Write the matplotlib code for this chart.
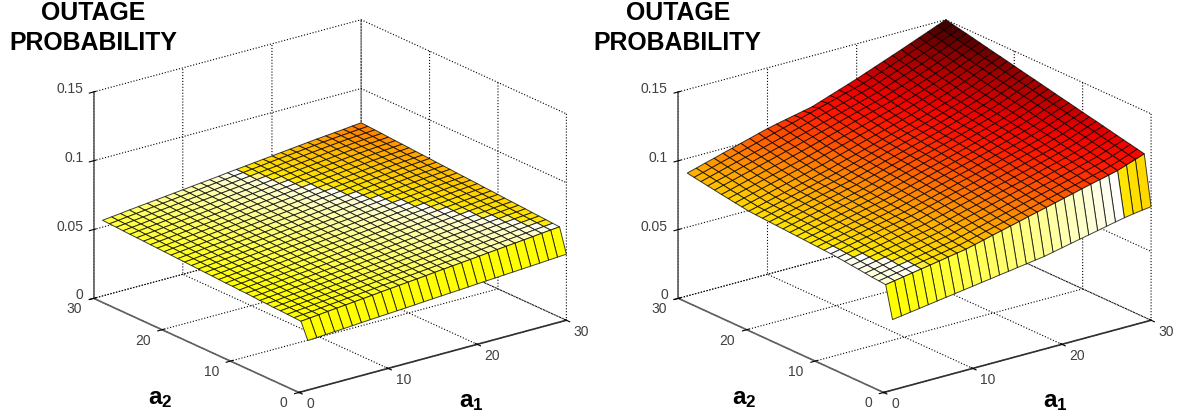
import numpy as np
import matplotlib
matplotlib.use("Agg")
import matplotlib.pyplot as plt
from matplotlib.colors import LinearSegmentedColormap, Normalize
from matplotlib.transforms import Affine2D
from mpl_toolkits.mplot3d import proj3d

W, H = 1177, 418
plt.rcParams["font.family"] = ["Liberation Sans", "DejaVu Sans"]
plt.rcParams["mathtext.fontset"] = "custom"
plt.rcParams["mathtext.bf"] = "Liberation Sans:bold"
plt.rcParams["grid.linestyle"] = ":"
plt.rcParams["grid.color"] = "black"
plt.rcParams["grid.linewidth"] = 0.8

A1 = list(range(1, 31))
A2 = list(range(0, 31))

# outage probability x 1e4, one row per a2 = 0..30
Z_LEFT = [
    [360, 364, 368, 372, 376, 380, 385, 389, 393, 397, 401, 405, 409, 414, 418, 422, 426, 430, 434, 439, 443, 447, 451, 455, 459, 463, 467, 472, 476, 480],
    [477, 483, 489, 496, 502, 508, 514, 520, 526, 533, 539, 545, 551, 557, 563, 570, 576, 582, 588, 594, 600, 607, 613, 619, 625, 631, 637, 644, 650, 656],
    [480, 486, 491, 498, 505, 510, 517, 523, 529, 535, 542, 547, 554, 560, 566, 572, 579, 585, 591, 597, 603, 609, 616, 622, 628, 634, 640, 647, 653, 659],
    [482, 489, 494, 501, 507, 514, 519, 526, 532, 538, 545, 550, 557, 563, 569, 576, 582, 588, 594, 600, 607, 613, 619, 626, 632, 638, 644, 651, 657, 663],
    [485, 491, 497, 503, 510, 516, 522, 529, 535, 541, 547, 554, 560, 566, 572, 579, 585, 591, 598, 604, 610, 616, 623, 629, 635, 641, 648, 654, 660, 666],
    [486, 493, 500, 506, 512, 519, 525, 531, 537, 544, 550, 556, 563, 569, 575, 582, 588, 594, 601, 607, 613, 620, 626, 632, 639, 645, 651, 657, 663, 669],
    [490, 495, 502, 509, 515, 521, 528, 534, 540, 547, 553, 559, 566, 572, 578, 585, 591, 597, 604, 610, 616, 623, 629, 636, 642, 648, 654, 661, 667, 673],
    [491, 498, 504, 511, 518, 524, 530, 537, 543, 550, 556, 562, 569, 575, 581, 588, 594, 601, 607, 613, 620, 626, 633, 639, 645, 652, 658, 664, 670, 676],
    [495, 500, 507, 514, 520, 527, 533, 539, 546, 552, 559, 565, 572, 578, 585, 591, 597, 604, 610, 617, 623, 630, 636, 642, 649, 655, 661, 668, 674, 679],
    [498, 503, 510, 516, 523, 530, 536, 542, 549, 555, 562, 568, 575, 581, 588, 594, 601, 607, 613, 620, 626, 633, 639, 646, 652, 659, 665, 671, 677, 682],
    [499, 506, 512, 519, 526, 532, 539, 545, 552, 558, 565, 571, 578, 584, 591, 597, 604, 610, 617, 623, 630, 636, 642, 649, 655, 662, 668, 675, 681, 686],
    [503, 508, 515, 522, 528, 535, 541, 548, 555, 561, 568, 574, 581, 587, 594, 600, 607, 613, 620, 626, 633, 639, 646, 652, 659, 665, 672, 678, 684, 689],
    [504, 511, 518, 524, 531, 538, 544, 551, 557, 564, 571, 577, 584, 590, 597, 603, 610, 616, 623, 629, 636, 643, 649, 656, 662, 669, 675, 682, 687, 692],
    [507, 514, 520, 527, 534, 540, 547, 554, 560, 567, 574, 580, 587, 594, 600, 607, 613, 620, 626, 633, 640, 646, 653, 659, 666, 672, 679, 685, 691, 696],
    [510, 516, 523, 530, 536, 543, 550, 557, 563, 570, 576, 583, 590, 597, 603, 610, 616, 623, 630, 636, 643, 650, 656, 663, 669, 676, 682, 689, 694, 699],
    [512, 519, 525, 532, 539, 546, 552, 559, 566, 573, 579, 586, 593, 599, 606, 613, 619, 626, 633, 639, 646, 653, 659, 666, 673, 679, 686, 691, 697, 702],
    [515, 521, 528, 535, 542, 548, 555, 562, 569, 575, 582, 589, 596, 602, 609, 616, 622, 629, 636, 643, 649, 656, 663, 669, 676, 683, 689, 695, 700, 705],
    [517, 524, 531, 537, 544, 551, 558, 565, 571, 578, 585, 592, 598, 605, 612, 619, 626, 632, 639, 646, 653, 659, 666, 673, 680, 686, 693, 698, 704, 709],
    [520, 526, 533, 540, 547, 554, 560, 567, 574, 581, 588, 595, 601, 608, 615, 622, 629, 636, 642, 649, 656, 663, 670, 676, 683, 690, 696, 702, 707, 712],
    [522, 529, 536, 543, 550, 556, 563, 570, 577, 584, 591, 598, 604, 611, 618, 625, 632, 639, 646, 653, 659, 666, 673, 680, 687, 693, 700, 705, 710, 715],
    [525, 531, 538, 545, 552, 559, 566, 573, 580, 587, 594, 601, 608, 614, 621, 628, 635, 642, 649, 656, 663, 670, 677, 683, 690, 697, 703, 709, 714, 719],
    [527, 534, 541, 548, 555, 562, 569, 576, 583, 590, 597, 604, 610, 617, 624, 631, 638, 645, 652, 659, 666, 673, 680, 687, 694, 700, 707, 712, 717, 722],
    [530, 536, 543, 550, 557, 565, 572, 579, 586, 593, 600, 607, 614, 621, 628, 635, 642, 648, 655, 662, 669, 676, 683, 690, 697, 704, 710, 715, 720, 725],
    [532, 539, 546, 553, 560, 567, 574, 581, 588, 596, 603, 610, 617, 624, 631, 638, 645, 652, 659, 666, 673, 680, 687, 694, 701, 707, 713, 718, 723, 729],
    [535, 541, 548, 556, 563, 570, 577, 584, 591, 598, 605, 613, 620, 627, 634, 641, 648, 655, 662, 669, 676, 683, 690, 697, 704, 711, 717, 722, 727, 732],
    [537, 544, 551, 558, 565, 573, 580, 587, 594, 601, 609, 616, 623, 630, 637, 644, 651, 658, 665, 672, 680, 687, 694, 701, 708, 714, 720, 725, 730, 735],
    [539, 547, 554, 561, 568, 575, 583, 590, 597, 604, 612, 619, 626, 633, 640, 647, 655, 662, 669, 676, 683, 690, 697, 704, 711, 718, 723, 728, 733, 738],
    [542, 549, 556, 564, 571, 578, 585, 593, 600, 607, 614, 622, 629, 636, 643, 651, 658, 665, 672, 679, 686, 693, 701, 708, 715, 721, 727, 732, 737, 742],
    [545, 552, 559, 566, 574, 581, 588, 595, 603, 610, 617, 625, 632, 639, 647, 654, 661, 668, 675, 683, 690, 697, 704, 711, 718, 724, 730, 735, 740, 745],
    [547, 554, 562, 569, 576, 584, 591, 598, 606, 613, 620, 628, 635, 642, 650, 657, 664, 671, 679, 686, 693, 700, 707, 714, 721, 727, 733, 738, 743, 748],
    [550, 557, 564, 572, 579, 586, 593, 600, 607, 614, 621, 628, 635, 642, 650, 657, 664, 671, 678, 685, 692, 699, 706, 713, 720, 726, 732, 738, 745, 751],
]
Z_RIGHT = [
    [512, 521, 531, 540, 550, 559, 569, 578, 588, 597, 607, 616, 626, 635, 645, 654, 664, 673, 687, 701, 715, 729, 742, 756, 770, 784, 797, 808, 817, 825],
    [743, 754, 765, 776, 787, 798, 809, 821, 832, 843, 859, 875, 892, 908, 924, 940, 957, 973, 989, 1005, 1021, 1037, 1054, 1070, 1086, 1102, 1118, 1141, 1164, 1187],
    [748, 759, 770, 782, 793, 804, 815, 826, 838, 849, 865, 881, 898, 914, 930, 947, 963, 979, 996, 1012, 1028, 1044, 1060, 1076, 1093, 1110, 1128, 1150, 1174, 1198],
    [752, 764, 775, 787, 798, 810, 822, 833, 845, 856, 873, 889, 906, 922, 939, 956, 972, 989, 1005, 1022, 1038, 1055, 1071, 1088, 1105, 1122, 1140, 1162, 1186, 1209],
    [758, 770, 782, 794, 806, 818, 829, 841, 853, 865, 881, 898, 914, 930, 947, 963, 980, 996, 1013, 1029, 1046, 1062, 1079, 1096, 1113, 1130, 1149, 1172, 1196, 1219],
    [764, 776, 788, 800, 812, 824, 837, 849, 861, 873, 890, 906, 923, 940, 956, 973, 990, 1006, 1023, 1039, 1056, 1072, 1089, 1106, 1123, 1141, 1160, 1183, 1207, 1230],
    [769, 781, 794, 806, 818, 831, 843, 855, 868, 880, 897, 913, 930, 947, 963, 980, 997, 1013, 1030, 1046, 1063, 1080, 1097, 1114, 1131, 1150, 1170, 1194, 1218, 1241],
    [775, 788, 800, 813, 825, 838, 851, 863, 876, 888, 905, 921, 938, 955, 972, 988, 1005, 1022, 1038, 1055, 1072, 1089, 1106, 1124, 1141, 1160, 1180, 1205, 1229, 1252],
    [780, 793, 806, 819, 832, 845, 858, 871, 884, 897, 914, 930, 947, 963, 980, 997, 1013, 1030, 1046, 1063, 1080, 1097, 1115, 1132, 1150, 1170, 1190, 1215, 1239, 1263],
    [785, 798, 811, 824, 837, 851, 864, 877, 890, 903, 920, 937, 954, 971, 988, 1004, 1021, 1038, 1055, 1072, 1090, 1107, 1125, 1142, 1160, 1180, 1201, 1225, 1249, 1273],
    [788, 801, 815, 828, 841, 855, 868, 881, 895, 908, 925, 942, 959, 976, 993, 1011, 1028, 1045, 1062, 1079, 1097, 1115, 1132, 1150, 1169, 1189, 1211, 1236, 1260, 1284],
    [791, 805, 818, 832, 846, 859, 873, 887, 900, 914, 931, 949, 966, 983, 1001, 1018, 1035, 1052, 1070, 1087, 1105, 1123, 1141, 1159, 1178, 1198, 1221, 1246, 1271, 1295],
    [794, 808, 822, 836, 850, 863, 877, 891, 905, 919, 937, 954, 972, 989, 1007, 1024, 1042, 1059, 1077, 1094, 1112, 1131, 1149, 1168, 1187, 1208, 1231, 1257, 1282, 1306],
    [797, 811, 825, 840, 854, 868, 882, 897, 911, 925, 943, 960, 978, 996, 1013, 1031, 1048, 1066, 1084, 1101, 1120, 1139, 1158, 1177, 1196, 1218, 1241, 1267, 1292, 1316],
    [800, 814, 829, 843, 857, 872, 886, 900, 915, 929, 947, 965, 983, 1001, 1019, 1037, 1054, 1072, 1090, 1108, 1127, 1146, 1165, 1185, 1205, 1227, 1251, 1277, 1302, 1327],
    [803, 818, 833, 847, 862, 877, 892, 906, 921, 936, 954, 972, 990, 1008, 1025, 1043, 1061, 1079, 1097, 1115, 1134, 1154, 1173, 1193, 1214, 1237, 1261, 1288, 1313, 1338],
    [806, 821, 836, 851, 866, 880, 895, 910, 925, 940, 958, 977, 995, 1013, 1032, 1050, 1068, 1086, 1105, 1123, 1142, 1162, 1182, 1202, 1223, 1246, 1271, 1298, 1324, 1349],
    [809, 824, 840, 855, 870, 886, 901, 916, 932, 947, 965, 983, 1001, 1019, 1037, 1055, 1073, 1091, 1109, 1127, 1147, 1167, 1188, 1209, 1231, 1255, 1281, 1308, 1334, 1360],
    [812, 827, 843, 858, 874, 889, 905, 920, 936, 951, 969, 988, 1006, 1025, 1043, 1061, 1080, 1098, 1117, 1135, 1155, 1175, 1196, 1217, 1239, 1264, 1290, 1317, 1344, 1370],
    [815, 831, 847, 862, 878, 894, 910, 926, 941, 957, 976, 994, 1013, 1031, 1050, 1068, 1087, 1105, 1124, 1142, 1162, 1183, 1204, 1226, 1248, 1273, 1300, 1327, 1354, 1381],
    [818, 834, 850, 866, 882, 898, 914, 930, 946, 962, 981, 999, 1018, 1037, 1056, 1074, 1093, 1112, 1130, 1149, 1170, 1191, 1212, 1234, 1257, 1283, 1310, 1337, 1365, 1392],
    [821, 837, 854, 870, 886, 903, 919, 935, 952, 968, 987, 1006, 1024, 1043, 1062, 1081, 1100, 1118, 1137, 1156, 1177, 1198, 1220, 1242, 1266, 1292, 1320, 1348, 1375, 1403],
    [829, 845, 862, 878, 895, 911, 928, 944, 961, 977, 996, 1015, 1034, 1053, 1072, 1090, 1109, 1128, 1147, 1166, 1187, 1209, 1231, 1253, 1277, 1303, 1331, 1359, 1386, 1414],
    [836, 853, 870, 887, 904, 920, 937, 954, 971, 988, 1007, 1026, 1044, 1063, 1082, 1100, 1119, 1138, 1156, 1175, 1197, 1219, 1241, 1264, 1288, 1314, 1342, 1369, 1397, 1424],
    [844, 861, 878, 895, 912, 929, 945, 962, 979, 996, 1015, 1034, 1053, 1072, 1091, 1109, 1128, 1147, 1166, 1185, 1207, 1229, 1252, 1275, 1299, 1325, 1352, 1380, 1407, 1435],
    [851, 868, 886, 903, 920, 938, 955, 972, 990, 1007, 1026, 1045, 1064, 1082, 1101, 1120, 1139, 1157, 1176, 1195, 1217, 1240, 1263, 1286, 1310, 1337, 1364, 1391, 1419, 1446],
    [860, 878, 895, 913, 930, 948, 965, 983, 1001, 1018, 1037, 1055, 1074, 1092, 1111, 1130, 1148, 1167, 1185, 1204, 1227, 1250, 1273, 1297, 1322, 1349, 1376, 1403, 1430, 1457],
    [868, 886, 903, 921, 939, 956, 974, 992, 1010, 1027, 1046, 1064, 1083, 1102, 1120, 1139, 1158, 1177, 1195, 1214, 1237, 1261, 1285, 1309, 1334, 1361, 1387, 1414, 1441, 1468],
    [876, 894, 912, 930, 948, 965, 983, 1001, 1019, 1037, 1056, 1075, 1094, 1113, 1132, 1150, 1169, 1188, 1207, 1226, 1249, 1273, 1297, 1322, 1346, 1372, 1398, 1425, 1451, 1478],
    [884, 902, 920, 939, 957, 975, 993, 1011, 1030, 1048, 1067, 1085, 1104, 1123, 1142, 1160, 1179, 1198, 1216, 1235, 1259, 1283, 1308, 1333, 1358, 1384, 1410, 1436, 1463, 1489],
    [893, 911, 930, 948, 967, 985, 1004, 1022, 1041, 1059, 1074, 1088, 1102, 1116, 1130, 1153, 1176, 1199, 1222, 1245, 1270, 1295, 1320, 1345, 1370, 1396, 1422, 1448, 1474, 1500],
]

# colour stops: z x 1e4 -> colour, each panel has its own scale
STOPS_LEFT_Z = [360, 500, 550, 600, 640, 650, 653, 700, 751]
STOPS_LEFT_C = ["#ffff00", "#ffff00", "#ffff46", "#ffff96", "#ffffd2", "#ffffff", "#ffeb00", "#ffbe00", "#ff7300"]
STOPS_RIGHT_Z = [512, 785, 787, 893, 1000, 1120, 1200, 1350, 1500]
STOPS_RIGHT_C = ["#ffff00", "#ffffff", "#ffeb00", "#ffaa00", "#ff6400", "#ff1400", "#eb0000", "#960000", "#280000"]

Z_TICKS = [0, 0.05, 0.1, 0.15]
Z_TICK_LABELS = ["0", "0.05", "0.1", "0.15"]
AB_TICKS = [0, 10, 20, 30]
AB_TICK_LABELS = ["0", "10", "20", "30"]
TICK_GREY = "#404040"

fig = plt.figure(figsize=(W / 100, H / 100), dpi=100)


def px_text(x, y, s, **kw):
    fig.text(x / W, 1 - y / H, s, ha="center", va="center", **kw)


def tick_text(ax, x, y, z, s, dx, dy, ha):
    # mplot3d only offers pad along the tick direction, so labels go in by hand
    u, v, _ = proj3d.proj_transform(x, y, z, ax.get_proj())
    tr = ax.transData + Affine2D().translate(dx, dy)
    ax.text2D(u, v, s, transform=tr, ha=ha, va="center", fontsize=10, color=TICK_GREY)


def panel(cx, cy, z, stops_z, stops_c):
    size = 400
    ax = fig.add_axes([(cx - size / 2) / W, 1 - (cy + size / 2) / H, size / W, size / H],
                      projection="3d", proj_type="ortho")
    ax.patch.set_alpha(0)
    ax.view_init(elev=20.6, azim=-127.5)
    ax.set_box_aspect((1, 1, 0.654), zoom=1.275)

    zlo, zhi = stops_z[0], stops_z[-1]
    pos = [(v - zlo) / (zhi - zlo) for v in stops_z]
    cmap = LinearSegmentedColormap.from_list("panel", list(zip(pos, stops_c)), N=512)
    Z = np.array(z, dtype=float)
    colors = cmap(Normalize(zlo, zhi)(Z))

    X, Y = np.meshgrid(A1, A2)
    surf = ax.plot_surface(X, Y, Z / 1e4, facecolors=colors, edgecolor=(0, 0, 0, 0.75), linewidth=0.7,
                           rstride=1, cstride=1, shade=False)
    surf.set_clip_on(False)

    ax.set_xlim(0, 30)
    ax.set_ylim(0, 30)
    ax.set_zlim(0, 0.15)
    ax.set_xticks(AB_TICKS)
    ax.set_yticks(AB_TICKS)
    ax.set_zticks(Z_TICKS)
    ax.set_xticklabels([])
    ax.set_yticklabels([])
    ax.set_zticklabels([])
    for v, s in zip(AB_TICKS, AB_TICK_LABELS):
        tick_text(ax, v, 0, 0, s, 7.5, -12, "left")
        tick_text(ax, 0, v, 0, s, -11.5, -11, "right")
    for v, s in zip(Z_TICKS, Z_TICK_LABELS):
        tick_text(ax, 0, 30, v, s, -10.5, 3, "right")
    for axis, col in ((ax.xaxis, "#303030"), (ax.yaxis, "#606060"), (ax.zaxis, "#606060")):
        axis.pane.fill = False
        axis.pane.set_edgecolor("none")
        axis.line.set_color(col)
        axis.line.set_linewidth(1.2)
    return ax


panel(324.6, 211.5, Z_LEFT, STOPS_LEFT_Z, STOPS_LEFT_C)
panel(909.3, 211.5, Z_RIGHT, STOPS_RIGHT_Z, STOPS_RIGHT_C)

for dx in (0, 584.4):
    px_text(93.3 + dx, 13.5, "OUTAGE", fontsize=17.9, fontweight="bold", color="black")
    px_text(93.3 + dx, 43, "PROBABILITY", fontsize=17.9, fontweight="bold", color="black")
    px_text(160 + dx, 399, r"$\mathbf{a_2}$", fontsize=17.5, color="black")
    px_text(471 + dx, 402, r"$\mathbf{a_1}$", fontsize=17.5, color="black")

fig.savefig("out.png", dpi=100)
